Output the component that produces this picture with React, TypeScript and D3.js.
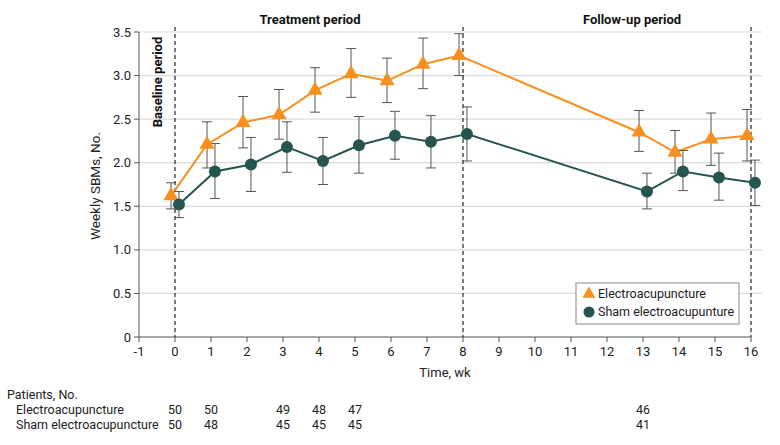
import React from "react";
import * as d3 from "d3";

const weeks = [0, 1, 2, 3, 4, 5, 6, 7, 8, 13, 14, 15, 16];
const eaMean = [1.62, 2.21, 2.46, 2.55, 2.83, 3.02, 2.94, 3.13, 3.23, 2.35, 2.12, 2.27, 2.31];
const eaLow = [1.47, 1.94, 2.17, 2.27, 2.58, 2.75, 2.69, 2.85, 3.0, 2.13, 1.88, 1.97, 2.02];
const eaHigh = [1.77, 2.47, 2.76, 2.84, 3.09, 3.31, 3.2, 3.43, 3.48, 2.6, 2.37, 2.57, 2.61];
const shMean = [1.52, 1.9, 1.98, 2.18, 2.02, 2.2, 2.31, 2.24, 2.33, 1.67, 1.9, 1.83, 1.77];
const shLow = [1.37, 1.59, 1.67, 1.89, 1.75, 1.88, 2.04, 1.94, 2.02, 1.47, 1.68, 1.57, 1.51];
const shHigh = [1.67, 2.22, 2.29, 2.47, 2.29, 2.53, 2.59, 2.54, 2.64, 1.88, 2.14, 2.11, 2.03];

const xTicks = d3.range(-1, 17);
const yTicks = [0, 0.5, 1, 1.5, 2, 2.5, 3, 3.5];
const periodLines = [0, 8, 16];

const tableWeeks = [0, 1, 3, 4, 5, 13];
const tableEA = [50, 50, 49, 48, 47, 46];
const tableSham = [50, 48, 45, 45, 45, 41];

const FONT = "Roboto, 'Noto Sans', sans-serif";
const ORANGE = "#f7901e";
const GREEN = "#265550";
const BAR = "#555";
const FS = 12.5;

export default function App() {
  const x = d3.scaleLinear().domain([-1, 16]).range([139, 751]);
  const y = d3.scaleLinear().domain([0, 3.5]).range([337, 32]);
  const off = 0.11;

  const eaPts = weeks.map((w, i) => ({ w: w - off, m: eaMean[i], lo: eaLow[i], hi: eaHigh[i] }));
  const shPts = weeks.map((w, i) => ({ w: w + off, m: shMean[i], lo: shLow[i], hi: shHigh[i] }));
  const line = d3
    .line<{ w: number; m: number }>()
    .x((d) => x(d.w))
    .y((d) => y(d.m));
  const tri = d3.symbol().type(d3.symbolTriangle).size(100)();

  const errBars = (pts: typeof eaPts, key: string) =>
    pts.map((p, i) => (
      <g key={key + i} stroke={BAR} strokeWidth={1}>
        <line x1={x(p.w)} x2={x(p.w)} y1={y(p.lo)} y2={y(p.hi)} />
        <line x1={x(p.w) - 5} x2={x(p.w) + 5} y1={y(p.lo)} y2={y(p.lo)} />
        <line x1={x(p.w) - 5} x2={x(p.w) + 5} y1={y(p.hi)} y2={y(p.hi)} />
      </g>
    ));

  return (
    <svg width={780} height={445} style={{ position: "absolute", left: 0, top: 0 }} fontFamily={FONT}>
      <rect width={780} height={445} fill="#fff" />
      {yTicks.slice(1).map((t) => (
        <line key={"g" + t} x1={x(-1)} x2={762} y1={y(t)} y2={y(t)} stroke="#dcdcdc" strokeWidth={1.2} />
      ))}
      <line x1={x(-1)} x2={x(-1)} y1={y(0)} y2={y(3.5)} stroke="#555" />
      <line x1={x(-1)} x2={x(16)} y1={y(0)} y2={y(0)} stroke="#555" />
      {yTicks.map((t) => (
        <g key={"y" + t}>
          <line x1={x(-1) - 5} x2={x(-1)} y1={y(t)} y2={y(t)} stroke="#555" />
          <text x={x(-1) - 8} y={y(t)} dy="0.35em" textAnchor="end" fontSize={13} fill="#222">
            {t === 0 ? "0" : t.toFixed(1)}
          </text>
        </g>
      ))}
      {xTicks.map((t) => (
        <g key={"x" + t}>
          <line x1={x(t)} x2={x(t)} y1={y(0)} y2={y(0) + 5} stroke="#555" />
          <text x={x(t)} y={y(0) + 19} textAnchor="middle" fontSize={13} fill="#222">
            {t < 0 ? "-" + Math.abs(t) : String(t)}
          </text>
        </g>
      ))}
      <text x={445} y={377} textAnchor="middle" fontSize={13} fill="#222">
        Time, wk
      </text>
      <text transform={`translate(100,186) rotate(-90)`} textAnchor="middle" fontSize={13.5} fill="#222">
        Weekly SBMs, No.
      </text>
      {periodLines.map((p) => (
        <line key={"p" + p} x1={x(p)} x2={x(p)} y1={27} y2={y(0)} stroke="#222" strokeDasharray="4,3" strokeWidth={1.2} />
      ))}
      <text x={310} y={24} textAnchor="middle" fontSize={13} fontWeight="bold" fill="#111">
        Treatment period
      </text>
      <text x={632} y={24} textAnchor="middle" fontSize={13} fontWeight="bold" fill="#111">
        Follow-up period
      </text>
      <text transform={`translate(162,82) rotate(-90)`} textAnchor="middle" fontSize={13} fontWeight="bold" fill="#111">
        Baseline period
      </text>
      <path d={line(eaPts) || ""} fill="none" stroke={ORANGE} strokeWidth={2} />
      <path d={line(shPts) || ""} fill="none" stroke={GREEN} strokeWidth={2} />
      {errBars(eaPts, "e")}
      {errBars(shPts, "s")}
      {eaPts.map((p, i) => (
        <path key={"t" + i} d={tri || ""} transform={`translate(${x(p.w)},${y(p.m)})`} fill={ORANGE} />
      ))}
      {shPts.map((p, i) => (
        <circle key={"c" + i} cx={x(p.w)} cy={y(p.m)} r={6} fill={GREEN} />
      ))}
      <rect x={576} y={283} width={163} height={41} fill="#fff" stroke="#888" />
      <path d={tri || ""} transform="translate(589,294) scale(0.85)" fill={ORANGE} />
      <text x={598} y={294} dy="0.35em" fontSize={FS} fill="#222">
        Electroacupuncture
      </text>
      <circle cx={589} cy={312} r={5.5} fill={GREEN} />
      <text x={598} y={312} dy="0.35em" fontSize={FS} fill="#222">
        Sham electroacupunture
      </text>
      <text x={7} y={399} fontSize={FS} fill="#222">
        Patients, No.
      </text>
      <text x={16} y={414} fontSize={FS} fill="#222">
        Electroacupuncture
      </text>
      <text x={16} y={429} fontSize={FS} fill="#222">
        Sham electroacupuncture
      </text>
      {tableWeeks.map((w, i) => (
        <g key={"tb" + i}>
          <text x={x(w)} y={414} textAnchor="middle" fontSize={FS} fill="#222">
            {tableEA[i]}
          </text>
          <text x={x(w)} y={429} textAnchor="middle" fontSize={FS} fill="#222">
            {tableSham[i]}
          </text>
        </g>
      ))}
    </svg>
  );
}
